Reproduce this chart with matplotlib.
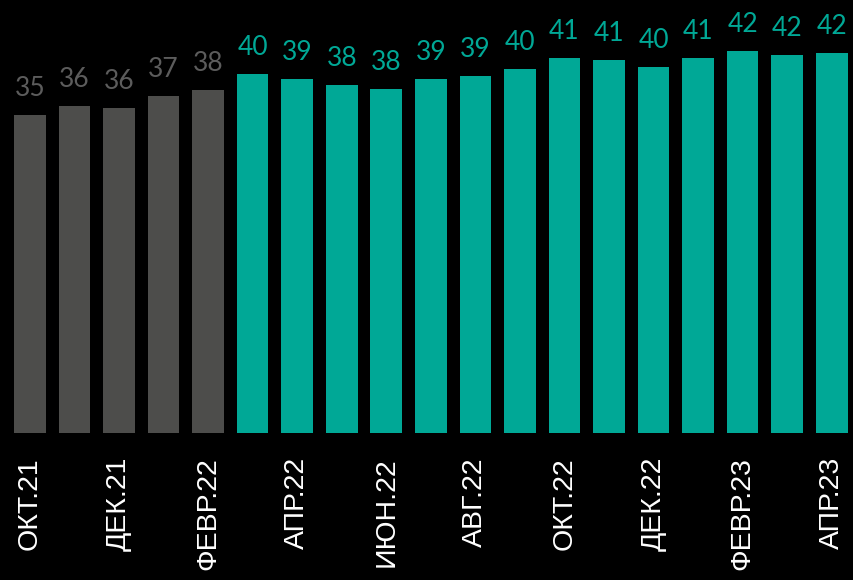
import matplotlib
matplotlib.use('Agg')
import matplotlib.pyplot as plt

months = ['ОКТ.21', 'НОЯ.21', 'ДЕК.21', 'ЯНВ.22', 'ФЕВР.22', 'МАР.22', 'АПР.22',
          'МАЙ.22', 'ИЮН.22', 'ИЮЛ.22', 'АВГ.22', 'СЕН.22', 'ОКТ.22', 'НОЯ.22',
          'ДЕК.22', 'ЯНВ.23', 'ФЕВР.23', 'МАР.23', 'АПР.23']
values = [34.97, 35.96, 35.74, 37.06, 37.72, 39.47, 38.93, 38.27, 37.83, 38.93,
          39.26, 40.02, 41.23, 41.01, 40.24, 41.23, 42.0, 41.56, 41.78]
labels = [35, 36, 36, 37, 38, 40, 39, 38, 38, 39, 39, 40, 41, 41, 40, 41, 42, 42, 42]
n_old = 5  # первые месяцы серым

GRAY = '#4d4d4b'
GRAY_TXT = '#5c5c5c'
TEAL = '#00a896'

fig = plt.figure(figsize=(8.54, 5.8), dpi=100, facecolor='black')
ax = fig.add_axes([0.009, 0.2526, 0.991, 0.7223])
ax.set_facecolor('black')

x = list(range(len(values)))
colors = [GRAY if i < n_old else TEAL for i in x]
ax.bar(x, values, width=0.71, color=colors)

for i, v in enumerate(values):
    c = GRAY_TXT if i < n_old else TEAL
    ax.annotate(str(labels[i]), (i, v), xytext=(0, 10), textcoords='offset points',
                ha='center', va='bottom', color=c, fontsize=19,
                family='Lato', fontweight=400, annotation_clip=False)

ax.set_xlim(-0.5, len(values) - 0.5)
ax.set_ylim(0, 46)
ax.set_xticks(x[::2])
ax.set_xticklabels(months[::2], rotation=90, color='white',
                   fontsize=20.5, family='Liberation Sans')
ax.tick_params(axis='x', length=0, pad=17)
ax.set_yticks([])
for s in ax.spines.values():
    s.set_visible(False)

fig.savefig('out.png', dpi=100, facecolor='black')
